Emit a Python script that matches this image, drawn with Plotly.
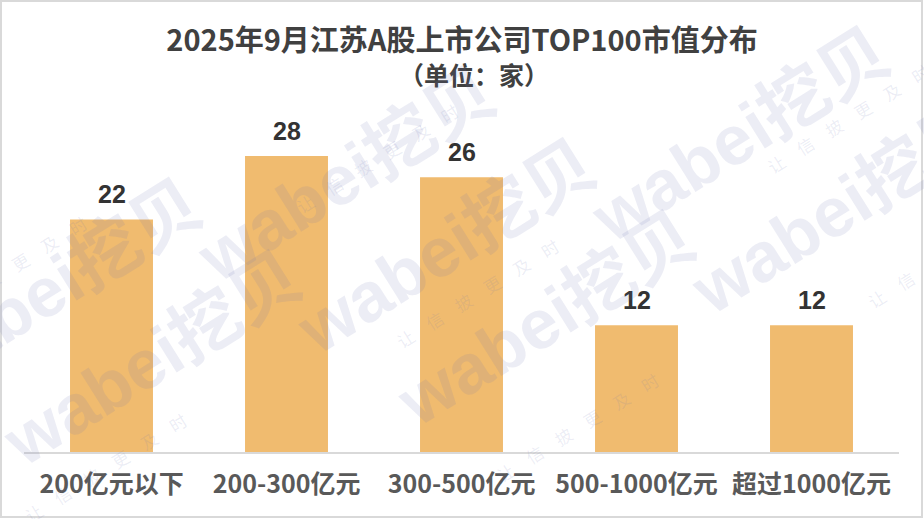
import plotly.graph_objects as go

# data
categories = ["200亿元以下", "200-300亿元", "300-500亿元", "500-1000亿元", "超过1000亿元"]
counts = [22, 28, 26, 12, 12]

title_text = "2025年9月江苏A股上市公司TOP100市值分布"
subtitle_text = "（单位：家）"
watermark_text = "wabei挖贝"
watermark_sub = "\u2003".join("让信披更及时")

W, H = 924, 519
L, R, T, B = 24, 25, 82, 67
plot_w = W - L - R
plot_h = H - T - B

font_family = "Noto Sans CJK SC, sans-serif"


def px_to_paper(px, py):
    return (px - L) / plot_w, (H - B - py) / plot_h


fig = go.Figure()
fig.add_trace(go.Bar(
    x=categories,
    y=counts,
    marker=dict(color="#F0BB6F", line=dict(width=0)),
    hoverinfo="x+y",
))

# value labels above bars
for c, v in zip(categories, counts):
    fig.add_annotation(
        x=c, y=v, text=str(v), showarrow=False,
        yanchor="bottom", yshift=9,
        font=dict(family="Liberation Sans, sans-serif", size=25, color="#333333", weight="bold"),
    )

# subtitle
sx, sy = px_to_paper(W / 2 + 12, 74)
fig.add_annotation(
    x=sx, xref="paper", y=sy, yref="paper",
    text=subtitle_text, showarrow=False, yanchor="middle",
    font=dict(family=font_family, size=25, color="#404040", weight="bold"),
)

# faint diagonal watermark tiles
wm_color = "rgba(105,115,180,0.13)"
for i in range(-2, 3):
    for j in range(-1, 2):
        cx = 447 + i * 100 + j * 460
        cy = 247 + i * 197 - j * 237
        if cx < -200 or cx > W + 150 or cy < -120 or cy > H + 120:
            continue
        mx, my = px_to_paper(cx, cy)
        fig.add_annotation(
            x=mx, y=my, xref="paper", yref="paper", text=watermark_text,
            showarrow=False, textangle=-32,
            font=dict(family="Liberation Sans, Noto Sans CJK SC", size=70,
                      color=wm_color, weight="bold"),
        )
        ax, ay = px_to_paper(cx + 30, cy + 46)
        fig.add_annotation(
            x=ax, y=ay, xref="paper", yref="paper", text=watermark_sub,
            showarrow=False, textangle=-32,
            font=dict(family=font_family, size=17, color=wm_color),
        )

# thin frame around the whole picture
fig.add_shape(
    type="rect", xref="paper", yref="paper",
    x0=(1 - L) / plot_w, x1=(W - 2 - L) / plot_w,
    y0=-(B - 2) / plot_h, y1=(plot_h + T - 1) / plot_h,
    line=dict(color="#D9D9D9", width=2), layer="below",
)

fig.update_layout(
    width=W, height=H,
    margin=dict(l=L, r=R, t=T, b=B),
    paper_bgcolor="white", plot_bgcolor="white",
    title=dict(
        text=title_text, x=0.5, xanchor="center",
        y=1 - 41 / H, yanchor="middle", yref="container",
        font=dict(family=font_family, size=29, color="#404040", weight="bold"),
    ),
    bargap=0.526,
    showlegend=False,
    xaxis=dict(
        showline=True, linecolor="#D9D9D9", linewidth=2,
        ticks="", ticklabelstandoff=9,
        tickfont=dict(family=font_family, size=25, color="#595959", weight="bold"),
    ),
    yaxis=dict(range=[0, 35], visible=False, showgrid=False),
)

# the default page has an 8px body margin; drop it so the chart sits at 0,0
fig.write_html("out.html", config={"displayModeBar": False},
               post_script="document.body.style.margin='0';")
